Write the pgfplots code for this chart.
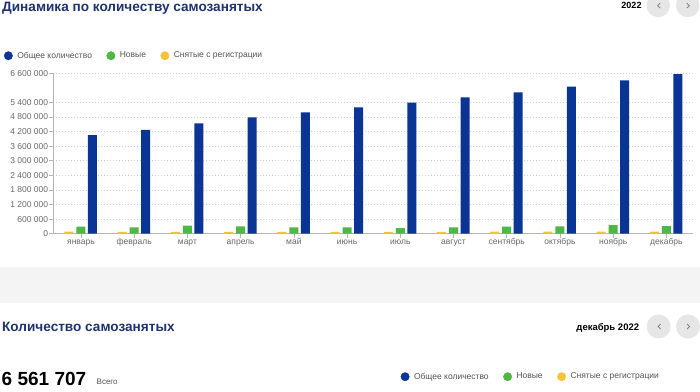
\documentclass[border=0pt]{standalone}
\usepackage{pgfplots}
\pgfplotsset{compat=1.18}
\usepackage{fontspec}
\setmainfont{Liberation Sans}
\definecolor{cBlue}{HTML}{0B3595}
\definecolor{cGreen}{HTML}{4DB845}
\definecolor{cYellow}{HTML}{F6C338}
\definecolor{cTitle}{HTML}{1E3370}
\definecolor{cText}{HTML}{555555}
\definecolor{cTick}{HTML}{6A6A6A}
\definecolor{cGrid}{HTML}{CFCFCF}
\definecolor{cAxis}{HTML}{B5B5B5}
\definecolor{cBand}{HTML}{F4F4F4}
\definecolor{cBtn}{HTML}{E6E6E6}
\definecolor{cChev}{HTML}{777777}
\pgfplotsset{
  dotlegend/.style={
    legend columns=3,
    legend cell align=left,
    legend style={draw=none, fill=none, inner sep=0pt, outer sep=0pt,
      font=\fontsize{8.5}{10}\selectfont, text=cText,
      nodes={inner sep=1.5pt},
      /tikz/every odd column/.append style={column sep=3pt},
      /tikz/every even column/.append style={column sep=13pt}},
  },
  dotimg/.style={legend image code/.code={\fill[#1] (4.2pt,0pt) circle (4.2pt);}},
}
\begin{document}
\begin{tikzpicture}
\path[use as bounding box] (0pt,0pt) rectangle (700pt,391pt);
\fill[white] (0pt,0pt) rectangle (700pt,391pt);
\fill[cBand] (0pt,88.3pt) rectangle (700pt,124.3pt);
% header 1
\node[anchor=base west, inner sep=0pt] at (2pt,379.5pt) {\fontsize{13.6}{15}\selectfont\bfseries\color{cTitle}Динамика по количеству самозанятых};
\node[anchor=base east, inner sep=0pt] at (641.7pt,382pt) {\fontsize{9}{11}\selectfont\bfseries 2022};
\fill[cBtn] (658.3pt,385.5pt) circle (11.7pt);
\fill[cBtn] (687.7pt,385.5pt) circle (11.7pt);
\draw[cChev, line width=0.7pt] (660.3pt,387.8pt) -- (657.6pt,385.3pt) -- (660.3pt,382.8pt);
\draw[cChev, line width=0.7pt] (686.7pt,387.8pt) -- (689.4pt,385.3pt) -- (686.7pt,382.8pt);
% header 2
\node[anchor=base west, inner sep=0pt] at (2pt,60pt) {\fontsize{13.6}{15}\selectfont\bfseries\color{cTitle}Количество самозанятых};
\node[anchor=base east, inner sep=0pt] at (639.3pt,61pt) {\fontsize{9.5}{11}\selectfont\bfseries декабрь 2022};
\fill[cBtn] (658.7pt,64.5pt) circle (12pt);
\fill[cBtn] (688pt,64.5pt) circle (12pt);
\draw[cChev, line width=0.7pt] (660.7pt,67pt) -- (658pt,64.5pt) -- (660.7pt,62pt);
\draw[cChev, line width=0.7pt] (687pt,67pt) -- (689.7pt,64.5pt) -- (687pt,62pt);
\node[anchor=base west, inner sep=0pt] at (1.5pt,6pt) {\fontsize{19}{22}\selectfont\bfseries 6 561 707};
\node[anchor=base west, inner sep=0pt] at (96.5pt,6.5pt) {\fontsize{8}{10}\selectfont\color{cText}Всего};

\begin{axis}[
  scale only axis, width=639.7pt, height=160.6pt,
  anchor=south west, at={(53.3pt,157.3pt)},
  xmin=-0.52, xmax=11.5, ymin=0, ymax=6600000,
  axis x line*=bottom, axis y line*=left,
  axis line style={cAxis, line width=0.8pt, -},
  xtick={0,1,2,3,4,5,6,7,8,9,10,11},
  xticklabels={январь,февраль,март,апрель,май,июнь,июль,август,сентябрь,октябрь,ноябрь,декабрь},
  ytick={0,600000,1200000,1800000,2400000,3000000,3600000,4200000,4800000,5400000,6600000},
  scaled y ticks=false,
  /pgf/number format/fixed,
  /pgf/number format/1000 sep={\ },
  /pgf/number format/assume math mode=true,
  tick label style={font=\fontsize{8.5}{10}\selectfont, text=cTick},
  yticklabel style={inner sep=1pt},
  xticklabel style={inner sep=0.5pt, anchor=north, text height=6.3pt, text depth=1.8pt},
  major tick length=4pt, tick align=outside,
  tick style={cAxis, line width=0.6pt},
  ymajorgrids,
  major grid style={cGrid, dash pattern=on 1pt off 2pt, line width=0.7pt},
  dotlegend,
  legend style={at={(-0.0771,1.108)}, anchor=west},
]
\addlegendimage{dotimg=cBlue}
\addlegendentry{Общее количество}
\addlegendimage{dotimg=cGreen}
\addlegendentry{Новые}
\addlegendimage{dotimg=cYellow}
\addlegendentry{Снятые с регистрации}
\addplot[ybar, bar width=9pt, bar shift=-12pt, fill=cYellow, draw=none, forget plot] coordinates {
(0,82000) (1,75000) (2,78000) (3,78000) (4,75000) (5,75000) (6,75000) (7,78000) (8,82000) (9,82000) (10,85000) (11,85000)};
\addplot[ybar, bar width=9pt, bar shift=0pt, fill=cGreen, draw=none, forget plot] coordinates {
(0,288000) (1,263000) (2,329000) (3,304000) (4,263000) (5,263000) (6,234000) (7,263000) (8,288000) (9,304000) (10,357000) (11,316000)};
\addplot[ybar, bar width=9pt, bar shift=11.5pt, fill=cBlue, draw=none, forget plot] coordinates {
(0,4056000) (1,4262000) (2,4537000) (3,4784000) (4,4990000) (5,5195000) (6,5384000) (7,5605000) (8,5811000) (9,6040000) (10,6300000) (11,6561707)};
\end{axis}

\begin{axis}[
  scale only axis, width=10pt, height=10pt,
  anchor=south west, at={(400.7pt,14.3pt)},
  xmin=0, xmax=1, ymin=0, ymax=1, hide axis,
  dotlegend,
  legend style={at={(0,0)}, anchor=west},
]
\addlegendimage{dotimg=cBlue}
\addlegendentry{Общее количество}
\addlegendimage{dotimg=cGreen}
\addlegendentry{Новые}
\addlegendimage{dotimg=cYellow}
\addlegendentry{Снятые с регистрации}
\end{axis}
\end{tikzpicture}
\end{document}
